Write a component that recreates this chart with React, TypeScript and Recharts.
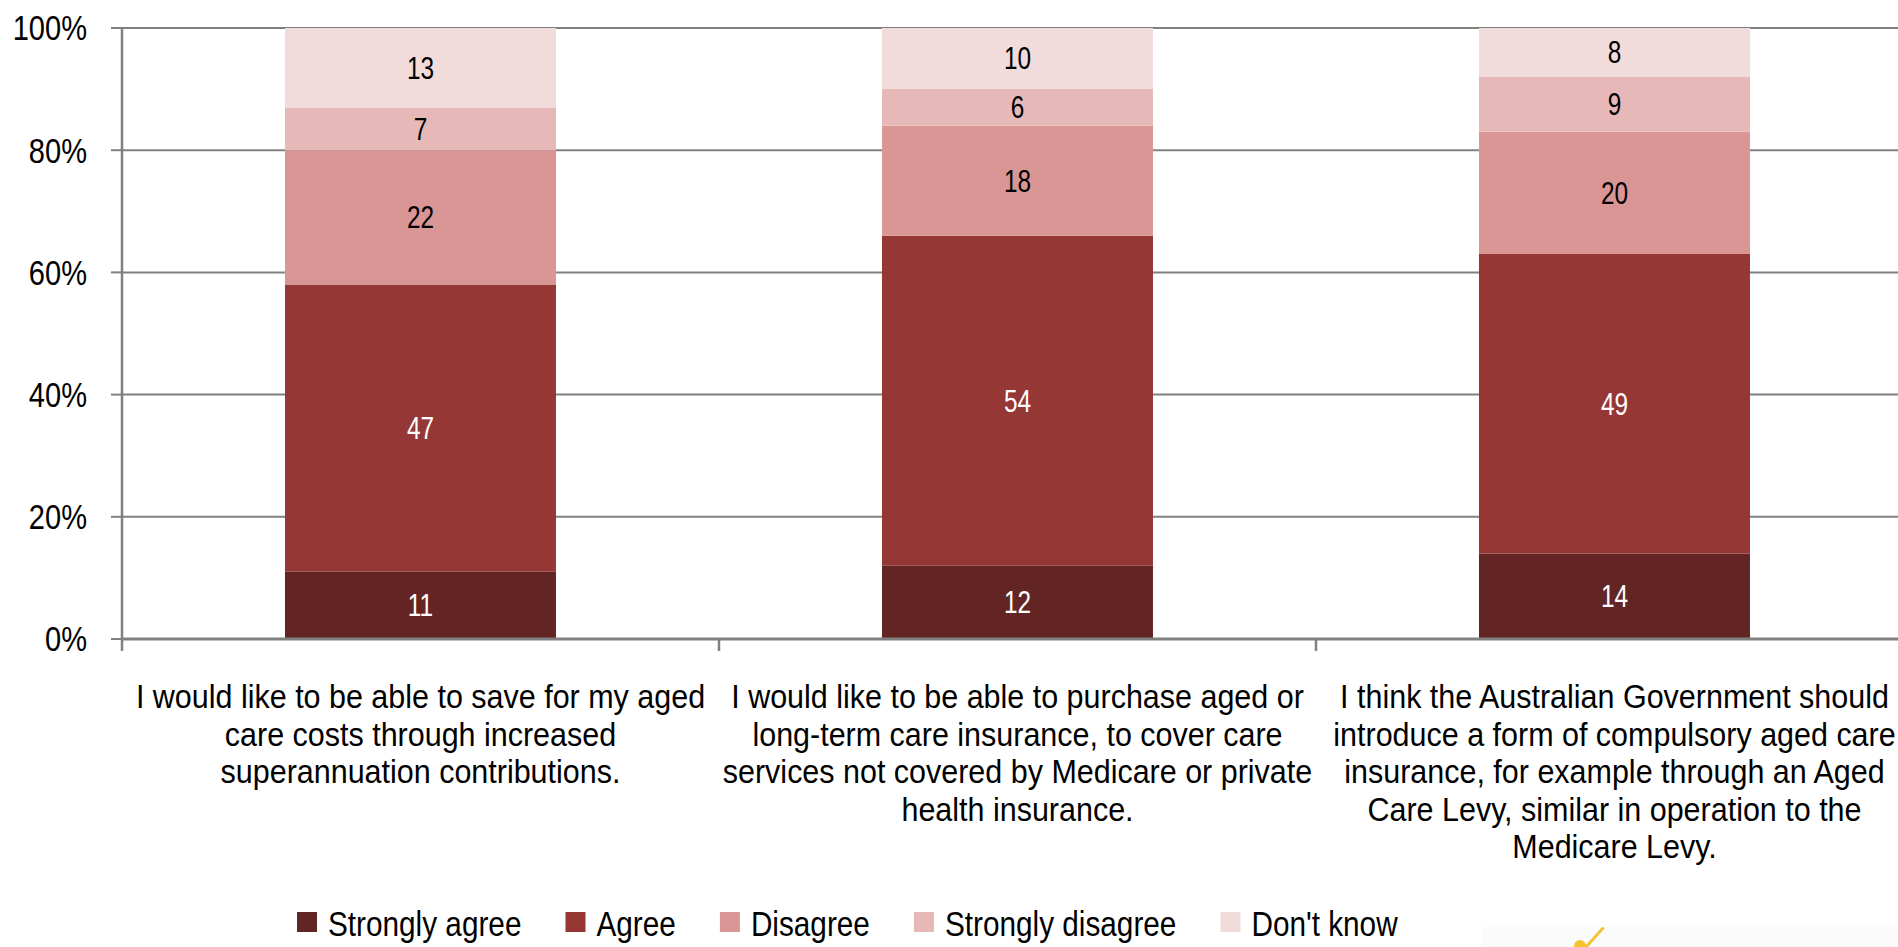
import { BarChart, Bar, XAxis, YAxis, CartesianGrid, Legend, LabelList } from "recharts";

const FONT = "'Liberation Sans', Arial, Helvetica, sans-serif";

// survey statements (x categories), wrapped the way the original shows them
const categories = ["save", "purchase", "levy"];
const categoryLines = [
  ["I would like to be able to save for my aged", "care costs through increased", "superannuation contributions."],
  [
    "I would like to be able to purchase aged or",
    "long-term care insurance, to cover care",
    "services not covered by Medicare or private",
    "health insurance.",
  ],
  [
    "I think the Australian Government should",
    "introduce a form of compulsory aged care",
    "insurance, for example through an Aged",
    "Care Levy, similar in operation to the",
    "Medicare Levy.",
  ],
];

// % of respondents
const stronglyAgree = [11, 12, 14];
const agree = [47, 54, 49];
const disagree = [22, 18, 20];
const stronglyDisagree = [7, 6, 9];
const dontKnow = [13, 10, 8];

const yTicks = [0, 20, 40, 60, 80, 100];

const series = [
  { key: "sa", name: "Strongly agree", values: stronglyAgree, color: "#632523", text: "#ffffff" },
  { key: "a", name: "Agree", values: agree, color: "#953735", text: "#ffffff" },
  { key: "d", name: "Disagree", values: disagree, color: "#d99694", text: "#000000" },
  { key: "sd", name: "Strongly disagree", values: stronglyDisagree, color: "#e6b9b8", text: "#000000" },
  { key: "dk", name: "Don't know", values: dontKnow, color: "#f2dcdb", text: "#000000" },
];

const data = categories.map((c, i) => {
  const row: any = { name: c };
  series.forEach((s) => (row[s.key] = s.values[i]));
  return row;
});

// the original uses a narrow face; squeeze regular Liberation Sans to match
let ctx: CanvasRenderingContext2D | null = null;
const measure = (t: string, size: number) => {
  if (!ctx) ctx = document.createElement("canvas").getContext("2d");
  if (!ctx) return t.length * size * 0.5;
  ctx.font = `${size}px 'Liberation Sans', Arial, sans-serif`;
  return ctx.measureText(t).width;
};

const CategoryTick = ({ x, y, payload, index }: any) => {
  const half = payload && payload.offset ? payload.offset : 298;
  const lines = categoryLines[index] || [];
  return (
    <g>
      <line x1={x - half} x2={x - half} y1={y} y2={y + 12} stroke="#808080" strokeWidth={2.5} />
      <g transform={`translate(${x},${y + 69}) scale(0.91,1)`}>
        <text x={0} y={0} textAnchor="middle" fontSize={33.5} fontFamily={FONT} fill="#000">
          {lines.map((l: string, i: number) => (
            <tspan key={i} x={0} dy={i === 0 ? 0 : 37.6}>
              {l}
            </tspan>
          ))}
        </text>
      </g>
    </g>
  );
};

const PercentTick = ({ x, y, payload }: any) => (
  <g transform={`translate(${x},${y}) scale(0.83,1)`}>
    <text x={0} y={0} dy="0.355em" textAnchor="end" fontSize={35} fontFamily={FONT} fill="#000">
      {`${payload.value}%`}
    </text>
  </g>
);

const makeLabel = (color: string) => (p: any) => {
  const { x, y, width, height, value } = p;
  const cx = Number(x) + Number(width) / 2;
  const cy = Number(y) + Number(height) / 2;
  return (
    <g transform={`translate(${cx},${cy}) scale(0.8,1)`}>
      <text x={0} y={0} dy="0.355em" textAnchor="middle" fontSize={30.5} fontFamily={FONT} fill={color}>
        {value}
      </text>
    </g>
  );
};

const renderLegend = () => {
  let cur = 0;
  const items = series.map((s) => {
    const left = cur;
    const w = measure(s.name, 35) * 0.85;
    cur += 20 + 11 + w + 44;
    return (
      <g key={s.key}>
        <rect x={left} y={9} width={20} height={20} fill={s.color} />
        <g transform={`translate(${left + 31},33) scale(0.85,1)`}>
          <text x={0} y={0} fontSize={35} fontFamily={FONT} fill="#000">
            {s.name}
          </text>
        </g>
      </g>
    );
  });
  return (
    <svg width={1200} height={44} style={{ display: "block" }}>
      {items}
    </svg>
  );
};

export default function App() {
  return (
    <div
      style={{
        position: "absolute",
        left: 0,
        top: 0,
        width: 1898,
        height: 947,
        overflow: "hidden",
        background: "#fff",
      }}
    >
      <BarChart
        width={1913}
        height={947}
        data={data}
        margin={{ top: 28, right: 0, left: 0, bottom: 0 }}
        barCategoryGap="27.3%"
      >
        <CartesianGrid horizontal vertical={false} stroke="#808080" strokeWidth={2} />
        <XAxis
          dataKey="name"
          height={308}
          interval={0}
          tick={<CategoryTick />}
          tickLine={false}
          tickSize={0}
          tickMargin={0}
          axisLine={{ stroke: "#808080", strokeWidth: 3 }}
        />
        <YAxis
          width={122}
          domain={[0, 100]}
          ticks={yTicks}
          tick={<PercentTick />}
          tickSize={11}
          tickMargin={24}
          tickLine={{ stroke: "#808080", strokeWidth: 2 }}
          axisLine={{ stroke: "#808080", strokeWidth: 2.5 }}
        />
        <Legend
          layout="horizontal"
          verticalAlign="middle"
          content={renderLegend}
          wrapperStyle={{ left: 297, top: 903, width: "auto" }}
        />
        {series.map((s) => (
          <Bar key={s.key} dataKey={s.key} name={s.name} stackId="x" fill={s.color} isAnimationActive={false}>
            <LabelList dataKey={s.key} content={makeLabel(s.text)} />
          </Bar>
        ))}
      </BarChart>
      <svg style={{ position: "absolute", left: 1482, top: 927 }} width={416} height={20}>
        <rect x={0} y={0} width={416} height={20} fill="#fbfbfb" />
        <circle cx={98} cy={19} r={6} fill="#f5c230" />
        <path d="M102 20 L120 0 L123 1 L106 20 Z" fill="#f5c230" />
      </svg>
    </div>
  );
}
